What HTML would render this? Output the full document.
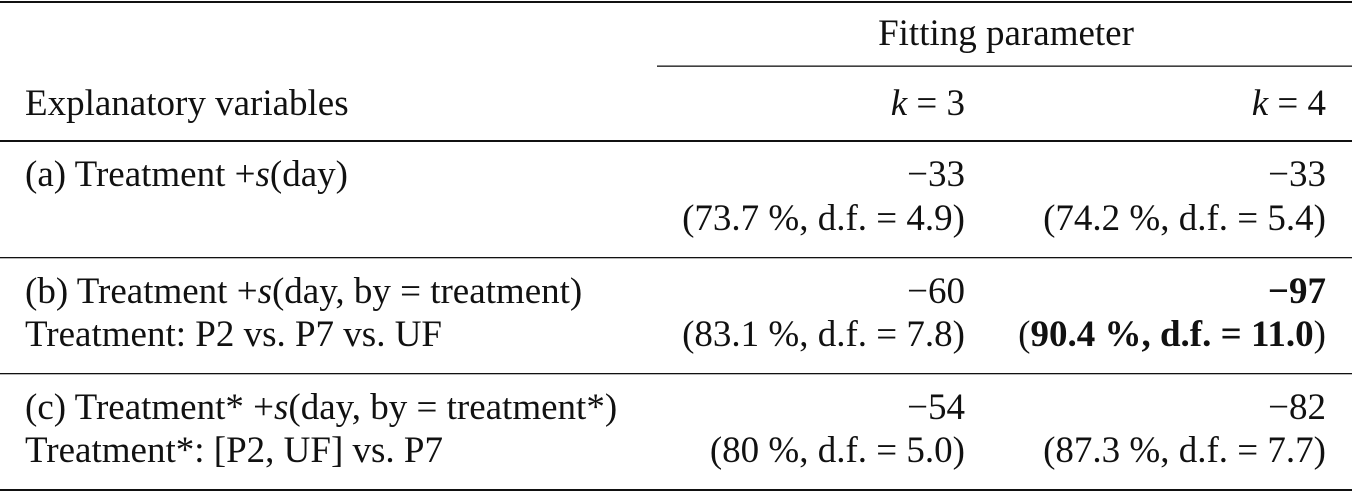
<!DOCTYPE html>
<html><head><meta charset="utf-8"><style>
html,body{margin:0;padding:0;background:#fff;}
svg{display:block;}
text{font-family:"Liberation Serif",serif;font-size:37px;fill:#111;}
.r{text-anchor:end;}
</style></head><body>
<svg width="1352" height="493" viewBox="0 0 1352 493">
<rect x="0" y="1" width="1352" height="2" fill="#111"/>
<rect x="657" y="65.5" width="695" height="1.3" fill="#111"/>
<rect x="0" y="140" width="1352" height="2" fill="#111"/>
<rect x="0" y="257" width="1352" height="1.3" fill="#111"/>
<rect x="0" y="373" width="1352" height="1.3" fill="#111"/>
<rect x="0" y="489" width="1352" height="2" fill="#111"/>

<text x="1006" y="45" text-anchor="middle">Fitting parameter</text>
<text x="25" y="115">Explanatory variables</text>
<text class="r" x="965" y="115"><tspan font-style="italic">k</tspan> = 3</text>
<text class="r" x="1326" y="115"><tspan font-style="italic">k</tspan> = 4</text>

<text x="25" y="186">(a) Treatment +<tspan font-style="italic">s</tspan>(day)</text>
<text class="r" x="965" y="186">−33</text>
<text class="r" x="1326" y="186">−33</text>
<text class="r" x="965" y="230">(73.7 %, d.f. = 4.9)</text>
<text class="r" x="1326" y="230">(74.2 %, d.f. = 5.4)</text>

<text x="25" y="303">(b) Treatment +<tspan font-style="italic">s</tspan>(day, by = treatment)</text>
<text x="25" y="346">Treatment: P2 vs. P7 vs. UF</text>
<text class="r" x="965" y="303">−60</text>
<text class="r" x="1326" y="303" font-weight="bold">−97</text>
<text class="r" x="965" y="346">(83.1 %, d.f. = 7.8)</text>
<text class="r" x="1326" y="346">(<tspan font-weight="bold">90.4 %, d.f. = 11.0</tspan>)</text>

<text x="25" y="419">(c) Treatment* +<tspan font-style="italic">s</tspan>(day, by = treatment*)</text>
<text x="25" y="462">Treatment*: [P2, UF] vs. P7</text>
<text class="r" x="965" y="419">−54</text>
<text class="r" x="1326" y="419">−82</text>
<text class="r" x="965" y="462">(80 %, d.f. = 5.0)</text>
<text class="r" x="1326" y="462">(87.3 %, d.f. = 7.7)</text>
</svg>
</body></html>
